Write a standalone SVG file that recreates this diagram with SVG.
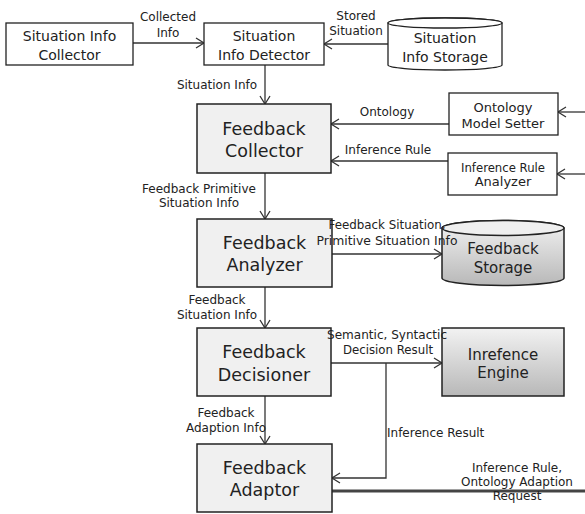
<svg xmlns="http://www.w3.org/2000/svg" width="585" height="514" viewBox="0 0 585 514">
  <style>
    .box { fill: #ffffff; stroke: #222; stroke-width: 1.3; }
    .core { fill: #f0f0f0; stroke: #222; stroke-width: 1.5; }
    .grad { stroke: #222; stroke-width: 1.5; }
    .conn { fill: none; stroke: #333; stroke-width: 1.3; }
    .thick { fill: none; stroke: #444; stroke-width: 3; }
    text { font-family: "DejaVu Sans", "Noto Sans", sans-serif; fill: #222; }
    .n14 { font-size: 14px; text-anchor: middle; }
    .n13 { font-size: 13px; text-anchor: middle; }
    .n15 { font-size: 15px; text-anchor: middle; }
    .big { font-size: 17.5px; text-anchor: middle; }
    .lbl { font-size: 12px; text-anchor: middle; }
    .lblL { font-size: 12px; text-anchor: start; }
  </style>
  <defs>
    <marker id="arrow" markerUnits="userSpaceOnUse" markerWidth="12" markerHeight="12" refX="9" refY="6" orient="auto">
      <path d="M1,1 L9,6 L1,11" fill="none" stroke="#333" stroke-width="1.3"/>
    </marker>
    <linearGradient id="shade" x1="0" y1="0" x2="0" y2="1">
      <stop offset="0" stop-color="#f2f2f2"/>
      <stop offset="1" stop-color="#b8b8b8"/>
    </linearGradient>
  </defs>

  <g id="connectors">
    <path class="conn" d="M133,43 H204" marker-end="url(#arrow)"/>
    <path class="conn" d="M388,44 H324" marker-end="url(#arrow)"/>
    <path class="conn" d="M265,65 V104" marker-end="url(#arrow)"/>
    <path class="conn" d="M449,124 H331" marker-end="url(#arrow)"/>
    <path class="conn" d="M448,161 H331" marker-end="url(#arrow)"/>
    <path class="conn" d="M585,112 H558" marker-end="url(#arrow)"/>
    <path class="conn" d="M585,174 H557" marker-end="url(#arrow)"/>
    <path class="conn" d="M265,173 V219" marker-end="url(#arrow)"/>
    <path class="conn" d="M332,254 H442" marker-end="url(#arrow)"/>
    <path class="conn" d="M265,287 V328" marker-end="url(#arrow)"/>
    <path class="conn" d="M331,363 H442" marker-end="url(#arrow)"/>
    <path class="conn" d="M386,363 V478 H332" marker-end="url(#arrow)"/>
    <path class="conn" d="M265,396 V444" marker-end="url(#arrow)"/>
    <path class="thick" d="M332,491 H585"/>
  </g>

  <g id="situation-info-collector">
    <rect class="box" x="6" y="23" width="127" height="42"/>
    <text class="n14" x="69.5" y="41">Situation Info</text>
    <text class="n14" x="69.5" y="60">Collector</text>
  </g>

  <g id="situation-info-detector">
    <rect class="box" x="204" y="23" width="120" height="42"/>
    <text class="n14" x="264" y="41">Situation</text>
    <text class="n14" x="264" y="60">Info Detector</text>
  </g>

  <g id="situation-info-storage">
    <path class="box" d="M388,23 V65 A57,5 0 0 0 502,65 V23 A57,5 0 0 0 388,23 Z"/>
    <ellipse class="box" cx="445" cy="23" rx="57" ry="5"/>
    <text class="n14" x="445" y="43">Situation</text>
    <text class="n14" x="445" y="62">Info Storage</text>
  </g>

  <g id="feedback-collector">
    <rect class="core" x="197" y="104" width="134" height="69"/>
    <text class="big" x="264" y="135">Feedback</text>
    <text class="big" x="264" y="157">Collector</text>
  </g>

  <g id="ontology-model-setter">
    <rect class="box" x="449" y="93" width="109" height="42"/>
    <text class="n13" x="503" y="112">Ontology</text>
    <text class="n13" x="503" y="128">Model Setter</text>
  </g>

  <g id="inference-rule-analyzer">
    <rect class="box" x="448" y="153" width="109" height="42"/>
    <text class="n13" x="503" y="172" textLength="84" lengthAdjust="spacingAndGlyphs">Inference Rule</text>
    <text class="n13" x="503" y="186">Analyzer</text>
  </g>

  <g id="feedback-analyzer">
    <rect class="core" x="197" y="219" width="135" height="68"/>
    <text class="big" x="264.5" y="249">Feedback</text>
    <text class="big" x="264.5" y="271">Analyzer</text>
  </g>

  <g id="feedback-storage">
    <path class="grad" fill="url(#shade)" d="M442,228 V278 A61,7.5 0 0 0 564,278 V228 A61,7.5 0 0 0 442,228 Z"/>
    <ellipse class="grad" fill="#efefef" cx="503" cy="228" rx="61" ry="7.5"/>
    <text class="n15" x="503" y="254">Feedback</text>
    <text class="n15" x="503" y="273">Storage</text>
  </g>

  <g id="feedback-decisioner">
    <rect class="core" x="197" y="328" width="134" height="68"/>
    <text class="big" x="264" y="358">Feedback</text>
    <text class="big" x="264" y="381">Decisioner</text>
  </g>

  <g id="inference-engine">
    <rect class="grad" fill="url(#shade)" x="442" y="328" width="122" height="68"/>
    <text class="n15" x="503" y="360">Inrefence</text>
    <text class="n15" x="503" y="378">Engine</text>
  </g>

  <g id="feedback-adaptor">
    <rect class="core" x="197" y="444" width="135" height="68"/>
    <text class="big" x="264.5" y="474">Feedback</text>
    <text class="big" x="264.5" y="496">Adaptor</text>
  </g>

  <!-- connector labels, drawn last so they sit above box outlines -->
  <g id="connector-labels">
    <text class="lbl" x="168" y="21">Collected</text>
    <text class="lbl" x="168" y="37">Info</text>
    <text class="lbl" x="356" y="20">Stored</text>
    <text class="lbl" x="356" y="35">Situation</text>
    <text class="lbl" x="217" y="89">Situation Info</text>
    <text class="lbl" x="387" y="116">Ontology</text>
    <text class="lbl" x="388" y="154">Inference Rule</text>
    <text class="lbl" x="199" y="193">Feedback Primitive</text>
    <text class="lbl" x="199" y="207">Situation Info</text>
    <text class="lbl" x="387" y="229" textLength="117" lengthAdjust="spacingAndGlyphs">Feedback Situation,</text>
    <text class="lbl" x="387" y="245" textLength="141" lengthAdjust="spacingAndGlyphs">Primitive Situation Info</text>
    <text class="lbl" x="217" y="304">Feedback</text>
    <text class="lbl" x="217" y="319">Situation Info</text>
    <text class="lbl" x="387" y="339" textLength="120" lengthAdjust="spacingAndGlyphs">Semantic, Syntactic</text>
    <text class="lbl" x="388" y="354" textLength="90" lengthAdjust="spacingAndGlyphs">Decision Result</text>
    <text class="lbl" x="226" y="417">Feedback</text>
    <text class="lbl" x="226" y="432">Adaption Info</text>
    <text class="lblL" x="387" y="437">Inference Result</text>
    <text class="lbl" x="517" y="472">Inference Rule,</text>
    <text class="lbl" x="517" y="486">Ontology Adaption</text>
    <text class="lbl" x="517" y="500">Request</text>
  </g>
</svg>
